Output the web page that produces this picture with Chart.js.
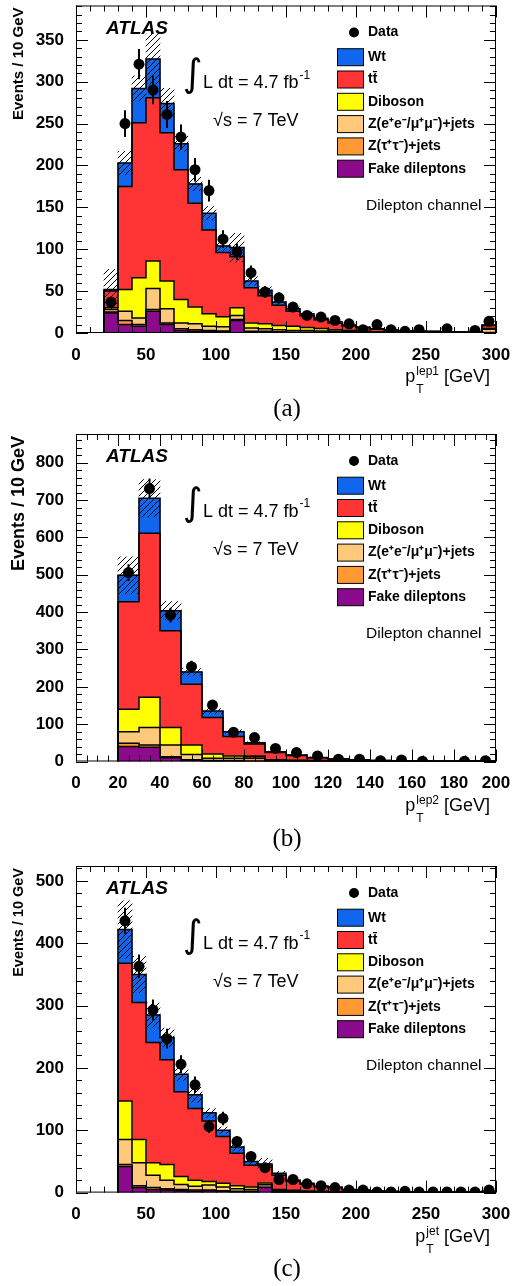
<!DOCTYPE html>
<html>
<head>
<meta charset="utf-8">
<title>ATLAS dilepton channel pT distributions</title>
<script src="https://cdn.jsdelivr.net/npm/chart.js@4.4.1/dist/chart.umd.min.js"></script>
<style>
  body { margin: 0; background: #fff; }
  #page { position: relative; width: 512px; height: 1286px; overflow: hidden; }
  canvas { position: absolute; left: 0; }
  .cap { position: absolute; left: 237px; width: 100px; text-align: center;
         font: 25px "Liberation Serif", "DejaVu Serif", serif; line-height: 28px; }
</style>
</head>
<body>
<div id="page">
  <canvas id="chartA" width="512" height="395" style="top:0px"></canvas>
  <div class="cap" style="top:394px">(a)</div>
  <canvas id="chartB" width="512" height="400" style="top:425px"></canvas>
  <div class="cap" style="top:824px">(b)</div>
  <canvas id="chartC" width="512" height="400" style="top:856px"></canvas>
  <div class="cap" style="top:1254px">(c)</div>
</div>
<script>
// legend entries, top to bottom (stack is drawn the other way round)
const labels = ['Wt', 'tt\u0304', 'Diboson', 'Z(e\u207Ae\u207B/\u03BC\u207A\u03BC\u207B)+jets', 'Z(\u03C4\u207A\u03C4\u207B)+jets', 'Fake dileptons'];
const colours = ['#1166ee', '#ff3434', '#ffff00', '#ffc97c', '#ff9933', '#8c0a8c'];
const binWidth = 10;

// (a) leading lepton pT, bin lower edges in GeV
const binsA = [20,30,40,50,60,70,80,90,100,110,120,130,140,150,160,170,180,190,200,210,220,230,240,250,260,270,280,290];
const fakeA = [24,10,8,26,10,3,2,2,1.5,15,1,1,0.5,0.5,0.5,0.3,0.2,0.2,0.1,0.1,0.1,0,0,0,0,0,0,0.2];
const zttA  = [1,5,2,2,2,2,2,1,1,1,1,1,1,0.5,0.5,0.5,0.3,0.3,0.2,0.2,0.1,0.1,0.1,0.1,0.1,0,0,0.3];
const zeeA  = [3,11,8,25,17,7,7,5,5,5,4,3,2.5,2,2,1.5,1.5,1,0.8,0.6,0.4,0.3,0.3,0.2,0.2,0.2,0.2,4];
const dibA  = [2,26,48,33,33,28,20,15,12,9,6,6,5,5,3.5,3,2,1.5,1,0.7,0.5,0.4,0.3,0.3,0.2,0.2,0.2,1];
const ttA   = [20,123,185,195,177,155,124,100,76.5,61,42,33.5,24,18,14,10.5,8,5.5,4.2,3,2.2,1.8,1.5,1.2,1,0.7,0.7,3.5];
const wtA   = [2,28,41,46,35,31,23,20,8,11,8,6.5,4,3,2.5,1.7,1.5,1,0.7,0.4,0.3,0.2,0.2,0.2,0.1,0.1,0.1,0.5];
const dataA = [37,250,321,290,261,234,195,170,112,97,72,49,42,31,21,19,15,11,4,10,4,2,4,null,5,null,3,14];
const statA = [6,16,18,17,16,15,14,13,10.6,9.8,8.5,7,6.5,5.6,4.6,4.4,3.9,3.3,2,3.2,2,1.4,2,0,2.2,0,1.7,3.7];
const systA = [24,14,15,30,18,9,8,8,6,17,5,4,3,2,2,2,1.5,1,0.8,0.6,0.5,0.4,0.3,0.3,0.2,0.2,0.2,1];

// (b) second lepton pT
const binsB = [20,30,40,50,60,70,80,90,100,110,120,130,140,150,160,170,180,190];
const fakeB = [40,38,10,3,1,1,1,0.5,0.5,0.3,0.2,0.1,0.1,0,0,0,0,0];
const zttB  = [9,6,3,2,2,1.5,8,1,0.5,0.5,0.3,0.2,0.1,0.1,0.1,0,0,0.1];
const zeeB  = [31,47,31,14,5.5,6,4,2,1.5,1,0.7,0.5,0.3,0.2,0.2,0.1,0.1,0.2];
const dibB  = [60,81,47,25,11.5,6.5,2,1.5,1,0.7,0.5,0.4,0.3,0.2,0.1,0.1,0.1,0.2];
const ttB   = [288,439,259,163,98,52,32,19,12.5,7.5,4.8,3.5,2,1.3,1,0.7,0.7,1.3];
const wtB   = [71,94,54,33,17,13,3,2,1.4,1,0.5,0.3,0.2,0.2,0.1,0.1,0.1,0.2];
const dataB = [506,731,392,254,151,78,64,35,24,15,6,6,2,4,1,null,1,2];
const statB = [22.5,27,19.8,16,12.3,8.8,8,5.9,4.9,3.9,2.4,2.4,1.4,2,1,0,1,1.4];
const systB = [49,50,24,9,7,5,3,2,2,1.5,1,0.8,0.5,0.4,0.3,0.2,0.2,0.3];

// (c) jet pT
const binsC = [30,40,50,60,70,80,90,100,110,120,130,140,150,160,170,180,190,200,210,220,230,240,250,260,270,280,290];
const fakeC = [42,8,5,4,3,2,3,2,1,1,8,0.5,0.3,0.2,0.2,0.1,0.1,0,0,0,0,0,0,0,0,0,0];
const zttC  = [3,3,3,2,2,2,1,1,1,1,0.5,0.5,0.5,0.3,0.3,0.2,0.2,0.1,0.1,0.1,0,0,0,0,0,0,0];
const zeeC  = [40,37,20,14,8,6,8,6,4,3,4,2,1.5,1,0.8,0.6,0.4,0.3,0.2,0.1,0.1,0.1,0.1,0.1,0,0,0.1];
const dibC  = [62,37,20,25,13,10,6,6,5,4,3,2,1.5,1,0.7,0.6,0.4,0.3,0.2,0.2,0.1,0.1,0.1,0.1,0.1,0.1,0.2];
const ttC   = [221,220,193,168,136,115,97,75,52,35,27.5,23,14.5,11,7.5,6.2,3.5,3,1.8,1.4,1.1,0.7,0.7,0.5,0.5,0.3,1.5];
const wtC   = [54,45,44,36,28,22,13,10,10,6,3,3,1.7,1.5,1,0.8,0.4,0.3,0.2,0.2,0.2,0.1,0.1,0.1,0.1,0.1,0.2];
const dataC = [436,363,293,247,206,173,106,119,82,58,40,21,21,14,11,8,4,4,1,1,2,1,1,1,1,1,4];
const statC = [21,19,17,15.7,14.4,13.2,10.3,10.9,9,7.6,6.3,4.6,4.6,3.7,3.3,2.8,2,2,1,1,1.4,1,1,1,1,1,2];
const systC = [46,29,19,15,10,12,7,5,6,5,9,3,2,2,1.5,1,0.8,0.6,0.4,0.3,0.3,0.2,0.2,0.2,0.2,0.1,0.3];

const FONT = '"Liberation Sans", Arial, sans-serif';
Chart.defaults.font.family = FONT;
Chart.defaults.font.size = 17;
Chart.defaults.font.weight = 'bold';
Chart.defaults.color = '#000';

function hatchPattern() {
  const c = document.createElement('canvas');
  c.width = 6; c.height = 6;
  const g = c.getContext('2d');
  g.strokeStyle = '#000';
  g.lineWidth = 1;
  g.beginPath();
  g.moveTo(0, 6); g.lineTo(6, 0);
  g.moveTo(-1, 1); g.lineTo(1, -1);
  g.moveTo(5, 7); g.lineTo(7, 5);
  g.stroke();
  return g.createPattern(c, 'repeat');
}

function isMajor(v, step) {
  return Math.abs(v / step - Math.round(v / step)) < 1e-6;
}

function makeChart(id, bins, parts, data, stat, syst, opt) {
  const stackColours = colours.slice().reverse();
  const stackLabels = labels.slice().reverse();
  const datasets = [];
  let base = bins.map(() => 0);

  // stacked MC, bottom to top, plus a step outline on each layer
  parts.forEach((vals, k) => {
    const lo = base;
    const hi = base.map((v, i) => v + vals[i]);
    datasets.push({
      type: 'bar', label: stackLabels[k], order: 10,
      data: bins.map((b, i) => ({ x: b + binWidth / 2, y: [lo[i], hi[i]] })),
      backgroundColor: stackColours[k], borderWidth: 0,
      barPercentage: 1, categoryPercentage: 1, grouped: false
    });
    const edge = [{ x: bins[0], y: 0 }];
    bins.forEach((b, i) => { edge.push({ x: b, y: hi[i] }, { x: b + binWidth, y: hi[i] }); });
    edge.push({ x: bins[bins.length - 1] + binWidth, y: 0 });
    datasets.push({
      type: 'line', data: edge, borderColor: '#000', borderWidth: 1.5,
      pointRadius: 0, fill: false, tension: 0, order: 3
    });
    base = hi;
  });

  // hatched uncertainty band around the total
  datasets.push({
    type: 'bar', label: 'Uncertainty', order: 5,
    data: bins.map((b, i) => ({ x: b + binWidth / 2, y: [Math.max(0, base[i] - syst[i]), base[i] + syst[i]] })),
    backgroundColor: hatchPattern(), borderWidth: 0,
    barPercentage: 1, categoryPercentage: 1, grouped: false
  });

  // data points
  datasets.push({
    type: 'line', label: 'Data', order: 1, showLine: false,
    data: bins.map((b, i) => ({ x: b + binWidth / 2, y: data[i] })),
    pointRadius: 5.5, pointBackgroundColor: '#000', pointBorderColor: '#000', pointBorderWidth: 0
  });

  const decor = {
    id: 'decor',
    afterDatasetsDraw(chart) {
      const ctx = chart.ctx, xs = chart.scales.x, ys = chart.scales.y;
      ctx.save();
      ctx.strokeStyle = '#000';
      ctx.lineWidth = 2;
      ctx.beginPath();
      bins.forEach((b, i) => {
        if (data[i] === null || !stat[i]) return;
        const px = xs.getPixelForValue(b + binWidth / 2);
        ctx.moveTo(px, ys.getPixelForValue(data[i] - stat[i]));
        ctx.lineTo(px, ys.getPixelForValue(data[i] + stat[i]));
      });
      ctx.stroke();
      ctx.restore();
    },
    afterDraw(chart) {
      const ctx = chart.ctx, a = chart.chartArea, xs = chart.scales.x, ys = chart.scales.y;
      ctx.save();
      ctx.strokeStyle = '#000';
      ctx.lineWidth = 1;
      ctx.strokeRect(a.left + 0.5, a.top + 0.5, a.right - a.left - 1, a.bottom - a.top - 1);

      // ROOT style ticks on all four sides, pointing inward
      ctx.beginPath();
      const nx = Math.round(opt.xMax / opt.xMinor);
      for (let i = 0; i <= nx; i++) {
        const v = i * opt.xMinor;
        const px = Math.round(xs.getPixelForValue(v)) + 0.5;
        const len = isMajor(v, opt.xStep) ? 12 : 6;
        ctx.moveTo(px, a.bottom); ctx.lineTo(px, a.bottom - len);
        ctx.moveTo(px, a.top); ctx.lineTo(px, a.top + len);
      }
      const ny = Math.floor(opt.yMax / opt.yMinor);
      for (let i = 0; i <= ny; i++) {
        const v = i * opt.yMinor;
        const py = Math.round(ys.getPixelForValue(v)) + 0.5;
        const len = isMajor(v, opt.yStep) ? 12 : 6;
        ctx.moveTo(a.left, py); ctx.lineTo(a.left + len, py);
        ctx.moveTo(a.right, py); ctx.lineTo(a.right - len, py);
      }
      ctx.stroke();

      ctx.fillStyle = '#000';
      ctx.textAlign = 'left';
      ctx.textBaseline = 'middle';

      // labels in the plot
      ctx.font = 'italic bold 19px ' + FONT;
      ctx.fillText('ATLAS', 106, a.top + 23);
      ctx.font = '38px "DejaVu Sans", sans-serif';
      ctx.fillText('\u222B', 183, a.top + 71);
      ctx.font = '18px ' + FONT;
      const lumi = 'L dt = 4.7 fb';
      ctx.fillText(lumi, 203, a.top + 78);
      const lw = ctx.measureText(lumi).width;
      ctx.font = '12px ' + FONT;
      ctx.fillText('-1', 203 + lw + 1, a.top + 70);
      ctx.font = '18px ' + FONT;
      ctx.fillText('\u221As = 7 TeV', 213, a.top + 116);

      // legend
      ctx.beginPath();
      ctx.arc(354, a.top + 27, 5, 0, Math.PI * 2);
      ctx.fill();
      ctx.font = 'bold 14px ' + FONT;
      ctx.fillText('Data', 368, a.top + 27);
      labels.forEach((txt, k) => {
        const y = a.top + 51.7 + k * 22.3;
        ctx.fillStyle = colours[k];
        ctx.fillRect(337, y - 8.5, 26, 17);
        ctx.strokeRect(337.5, y - 8.5, 26, 17);
        ctx.fillStyle = '#000';
        ctx.fillText(txt, 368, y);
      });
      ctx.font = '15.5px ' + FONT;
      ctx.fillText('Dilepton channel', 366, a.top + 200);

      // x axis title with sub/superscript, right aligned
      ctx.textBaseline = 'alphabetic';
      const baseY = a.bottom + 49;
      ctx.font = '18px ' + FONT;
      const wp = ctx.measureText('p').width;
      const wg = ctx.measureText(' [GeV]').width;
      ctx.font = '12px ' + FONT;
      const ws = Math.max(ctx.measureText(opt.xSup).width, ctx.measureText('T').width);
      const x0 = 490 - wg - ws - wp - 1;
      ctx.font = '18px ' + FONT;
      ctx.fillText('p', x0, baseY);
      ctx.font = '12px ' + FONT;
      ctx.fillText(opt.xSup, x0 + wp + 1, baseY - 7);
      ctx.fillText('T', x0 + wp + 1, baseY + 11);
      ctx.font = '18px ' + FONT;
      ctx.fillText(' [GeV]', x0 + wp + ws + 1, baseY);

      // y axis title, top aligned
      ctx.translate(opt.yTitleX, a.top + 2);
      ctx.rotate(-Math.PI / 2);
      ctx.textAlign = 'right';
      ctx.textBaseline = 'middle';
      ctx.font = 'bold ' + opt.yTitleSize + 'px ' + FONT;
      ctx.fillText('Events / 10 GeV', 0, 0);
      ctx.restore();
    }
  };

  return new Chart(document.getElementById(id), {
    type: 'bar',
    data: { datasets: datasets },
    options: {
      responsive: false,
      animation: false,
      devicePixelRatio: 1,
      events: [],
      layout: { padding: { top: opt.padTop, right: 16, left: 0, bottom: 0 } },
      plugins: { legend: { display: false }, tooltip: { enabled: false } },
      scales: {
        x: {
          type: 'linear', min: 0, max: opt.xMax, offset: false,
          grid: { display: false }, border: { display: false },
          ticks: { stepSize: opt.xStep, maxRotation: 0, autoSkip: false, includeBounds: false, padding: 4 },
          afterFit(s) { s.height = opt.xAxisH; s.paddingLeft = 0; s.paddingRight = 0; }
        },
        y: {
          min: 0, max: opt.yMax,
          grid: { display: false }, border: { display: false },
          ticks: { stepSize: opt.yStep, includeBounds: false, padding: 4 },
          afterFit(s) { s.width = 76; s.paddingTop = 0; s.paddingBottom = 0; }
        }
      }
    },
    plugins: [decor]
  });
}

makeChart('chartA', binsA, [fakeA, zttA, zeeA, dibA, ttA, wtA], dataA, statA, systA,
  { xMax: 300, xStep: 50, xMinor: 10, yMax: 391, yStep: 50, yMinor: 10,
    padTop: 5, xAxisH: 62, xSup: 'lep1', yTitleX: 18.5, yTitleSize: 15 });
makeChart('chartB', binsB, [fakeB, zttB, zeeB, dibB, ttB, wtB], dataB, statB, systB,
  { xMax: 200, xStep: 20, xMinor: 5, yMax: 877, yStep: 100, yMinor: 20,
    padTop: 9, xAxisH: 63.5, xSup: 'lep2', yTitleX: 19.5, yTitleSize: 18 });
makeChart('chartC', binsC, [fakeC, zttC, zeeC, dibC, ttC, wtC], dataC, statC, systC,
  { xMax: 300, xStep: 50, xMinor: 10, yMax: 524, yStep: 100, yMinor: 20,
    padTop: 10, xAxisH: 63.4, xSup: 'jet', yTitleX: 19, yTitleSize: 14.5 });
</script>
</body>
</html>
